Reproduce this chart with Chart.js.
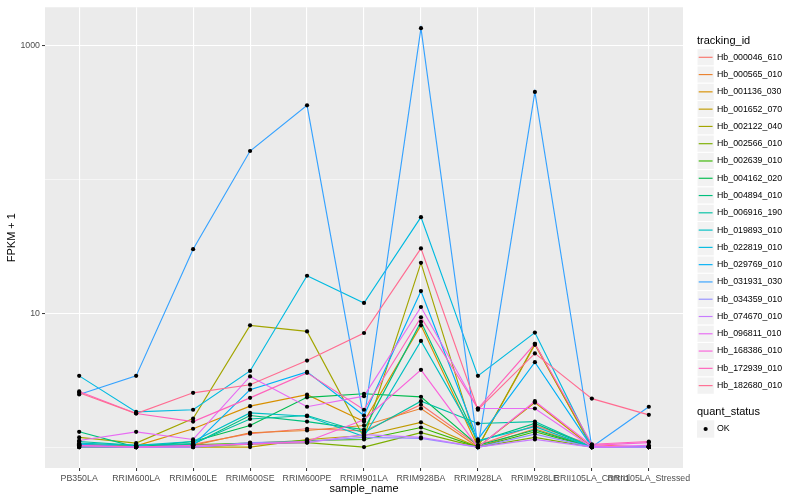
<!DOCTYPE html>
<html>
<head>
<meta charset="utf-8">
<script src="https://cdn.jsdelivr.net/npm/chart.js@4"></script>
<style>
  html, body { margin: 0; padding: 0; background: #fff; }
  canvas { display: block; }
</style>
</head>
<body>
<canvas id="fpkmChart" width="800" height="500"></canvas>
<script>
// samples on the x axis
const categories = ['PB350LA', 'RRIM600LA', 'RRIM600LE', 'RRIM600SE', 'RRIM600PE', 'RRIM901LA',
  'RRIM928BA', 'RRIM928LA', 'RRIM928LE', 'RRII105LA_Control', 'RRII105LA_Stressed'];

// FPKM + 1 per gene
const hb_000046_610 = [1.03, 1.0, 1.05, 1.26, 1.37, 1.32, 2.07, 1.03, 1.45, 1.04, 1.0];
const hb_000565_010 = [1.0, 1.0, 1.03, 1.28, 1.33, 1.45, 1.94, 1.0, 1.37, 1.0, 1.0];
const hb_001136_030 = [1.05, 1.02, 1.37, 2.02, 2.46, 1.55, 8.1, 1.0, 5.8, 1.0, 1.0];
const hb_001652_070 = [1.0, 1.0, 1.0, 1.0, 1.14, 1.22, 1.53, 1.0, 2.15, 1.0, 1.0];
const hb_002122_040 = [1.18, 1.07, 1.63, 8.1, 7.3, 1.18, 23.7, 1.0, 5.9, 1.0, 1.0];
const hb_002566_010 = [1.0, 1.0, 1.0, 1.05, 1.08, 1.0, 1.28, 1.0, 1.18, 1.0, 1.0];
const hb_002639_010 = [1.0, 1.0, 1.04, 1.07, 1.12, 1.14, 1.4, 1.0, 1.3, 1.0, 1.0];
const hb_004162_020 = [1.02, 1.0, 1.1, 1.45, 2.35, 2.5, 2.37, 1.03, 1.34, 1.0, 1.0];
const hb_004894_010 = [1.3, 1.0, 1.05, 1.72, 1.55, 1.35, 8.6, 1.1, 1.5, 1.0, 1.0];
const hb_006916_190 = [1.1, 1.03, 1.06, 1.62, 1.72, 1.28, 2.2, 1.5, 1.55, 1.0, 1.0];
const hb_019893_010 = [1.07, 1.03, 1.1, 1.8, 1.7, 1.2, 6.2, 1.12, 1.42, 1.0, 1.0];
const hb_022819_010 = [3.4, 1.83, 1.9, 3.7, 19.0, 11.9, 52, 3.4, 7.15, 1.0, 1.0];
const hb_029769_010 = [1.05, 1.0, 1.03, 2.68, 3.64, 1.72, 14.6, 1.14, 4.3, 1.0, 1.0];
const hb_031931_030 = [2.47, 3.4, 30, 162, 355, 1.6, 1337, 1.0, 447, 1.0, 2.0];
const hb_034359_010 = [1.0, 1.0, 1.0, 1.08, 1.1, 1.18, 1.16, 1.0, 1.25, 1.0, 1.0];
const hb_074670_010 = [1.02, 1.0, 1.0, 1.06, 1.08, 1.24, 1.18, 1.0, 1.14, 1.0, 1.0];
const hb_096811_010 = [1.12, 1.3, 1.14, 3.37, 2.0, 2.4, 11.1, 1.94, 1.94, 1.0, 1.03];
const hb_168386_010 = [1.03, 1.0, 1.03, 1.05, 1.1, 1.6, 3.77, 1.0, 2.2, 1.03, 1.08];
const hb_172939_010 = [2.6, 1.78, 1.55, 2.33, 3.58, 1.9, 9.3, 1.94, 5.9, 1.05, 1.1];
const hb_182680_010 = [2.54, 1.78, 2.54, 2.92, 4.42, 7.1, 30.4, 1.9, 5.0, 2.3, 1.74];

const trackingIds = ['Hb_000046_610', 'Hb_000565_010', 'Hb_001136_030', 'Hb_001652_070', 'Hb_002122_040',
  'Hb_002566_010', 'Hb_002639_010', 'Hb_004162_020', 'Hb_004894_010', 'Hb_006916_190', 'Hb_019893_010',
  'Hb_022819_010', 'Hb_029769_010', 'Hb_031931_030', 'Hb_034359_010', 'Hb_074670_010', 'Hb_096811_010',
  'Hb_168386_010', 'Hb_172939_010', 'Hb_182680_010'];
const seriesValues = [hb_000046_610, hb_000565_010, hb_001136_030, hb_001652_070, hb_002122_040,
  hb_002566_010, hb_002639_010, hb_004162_020, hb_004894_010, hb_006916_190, hb_019893_010,
  hb_022819_010, hb_029769_010, hb_031931_030, hb_034359_010, hb_074670_010, hb_096811_010,
  hb_168386_010, hb_172939_010, hb_182680_010];

// ggplot default hue palette for 20 levels
const hueColors = ['#F8766D', '#EA8331', '#D89000', '#C09B00', '#A3A500', '#7CAE00', '#39B600', '#00BB4E',
  '#00BF7D', '#00C1A3', '#00BFC4', '#00BAE0', '#00B0F6', '#35A2FF', '#9590FF', '#C77CFF', '#E76BF3',
  '#FA62DB', '#FF62BC', '#FF6C91'];

const yTicks = [1, 10, 100, 1000];
const yLabelled = [10, 1000];

const FONT = '"Liberation Sans", Arial, Helvetica, sans-serif';

const lineSets = seriesValues.map((vals, s) => ({
  type: 'line',
  label: trackingIds[s],
  data: vals.map((v, i) => ({x: i, y: v})),
  borderColor: hueColors[s],
  borderWidth: 1.15,
  pointRadius: 0,
  tension: 0,
  fill: false,
  order: seriesValues.length - s
}));

const pointSet = {
  type: 'scatter',
  label: 'OK',
  data: seriesValues.flatMap(vals => vals.map((v, i) => ({x: i, y: v}))),
  backgroundColor: '#000',
  borderWidth: 0,
  pointRadius: 2.1,
  showLine: false,
  order: 0
};

const panelBg = {
  id: 'panelBg',
  beforeDraw(chart) {
    const {ctx, chartArea: a} = chart;
    ctx.save();
    ctx.fillStyle = '#fff';
    ctx.fillRect(0, 0, chart.width, chart.height);
    ctx.fillStyle = '#EBEBEB';
    ctx.fillRect(a.left, a.top, a.right - a.left, a.bottom - a.top);
    ctx.restore();
  }
};

// ggplot style legend on the right
const ggLegend = {
  id: 'ggLegend',
  afterDraw(chart) {
    const ctx = chart.ctx;
    const keyX = 697, keyW = 17.28, keyH = 17.28, textX = 717;
    ctx.save();
    ctx.textBaseline = 'middle';
    ctx.textAlign = 'left';
    ctx.fillStyle = '#000';
    ctx.font = '11px ' + FONT;
    ctx.fillText('tracking_id', keyX, 40.5);

    ctx.font = '8.8px ' + FONT;
    chart.data.datasets.filter(d => d.type === 'line').forEach((d, i) => {
      const cy = 57.3 + i * keyH;
      ctx.fillStyle = '#F2F2F2';
      ctx.fillRect(keyX, cy - keyH / 2, keyW, keyH);
      ctx.strokeStyle = '#fff';
      ctx.lineWidth = 1;
      ctx.strokeRect(keyX, cy - keyH / 2, keyW, keyH);
      ctx.strokeStyle = d.borderColor;
      ctx.lineWidth = 1.15;
      ctx.beginPath();
      ctx.moveTo(keyX + 1.7, cy);
      ctx.lineTo(keyX + keyW - 1.7, cy);
      ctx.stroke();
      ctx.fillStyle = '#000';
      ctx.fillText(d.label, textX, cy);
    });

    ctx.font = '11px ' + FONT;
    ctx.fillText('quant_status', keyX, 412.3);
    const cy = 429;
    ctx.fillStyle = '#F2F2F2';
    ctx.fillRect(keyX, cy - keyH / 2, keyW, keyH);
    ctx.fillStyle = '#000';
    ctx.beginPath();
    ctx.arc(keyX + keyW / 2, cy, 2.1, 0, Math.PI * 2);
    ctx.fill();
    ctx.font = '8.8px ' + FONT;
    ctx.fillText('OK', textX, cy);
    ctx.restore();
  }
};

const ctxChart = document.getElementById('fpkmChart').getContext('2d');
new Chart(ctxChart, {
  type: 'line',
  data: {datasets: [...lineSets, pointSet]},
  plugins: [panelBg, ggLegend],
  options: {
    responsive: false,
    animation: false,
    layout: {padding: {top: 5, right: 117, bottom: 0, left: 0}},
    plugins: {legend: {display: false}, tooltip: {enabled: false}},
    scales: {
      x: {
        type: 'linear',
        min: -0.6,
        max: categories.length - 1 + 0.6,
        afterBuildTicks: scale => { scale.ticks = categories.map((c, i) => ({value: i})); },
        afterFit: scale => { scale.height = 32; },
        border: {display: false},
        grid: {color: '#fff', lineWidth: 1.1, tickColor: '#333', tickLength: 3, tickWidth: 1},
        ticks: {
          autoSkip: false,
          maxRotation: 0,
          padding: 2,
          color: '#4D4D4D',
          font: {family: FONT, size: 8.8},
          callback: v => categories[v]
        },
        title: {display: true, text: 'sample_name', color: '#000', font: {family: FONT, size: 11}, padding: {top: 0, bottom: 4}}
      },
      y: {
        type: 'logarithmic',
        min: 0.698,
        max: 1915,
        afterBuildTicks: scale => { scale.ticks = yTicks.map(v => ({value: v})); },
        afterFit: scale => { scale.width = 45; },
        border: {display: false},
        grid: {
          color: '#fff',
          lineWidth: c => yLabelled.includes(c.tick.value) ? 1.1 : 0.55,
          tickColor: c => yLabelled.includes(c.tick.value) ? '#333' : 'rgba(0,0,0,0)',
          tickLength: 3,
          tickWidth: 1
        },
        ticks: {
          autoSkip: false,
          padding: 2,
          color: '#4D4D4D',
          font: {family: FONT, size: 8.8},
          callback: v => yLabelled.includes(v) ? String(v) : ''
        },
        title: {display: true, text: 'FPKM + 1', color: '#000', font: {family: FONT, size: 11}, padding: {top: 5, bottom: 0}}
      }
    }
  }
});
</script>
</body>
</html>
